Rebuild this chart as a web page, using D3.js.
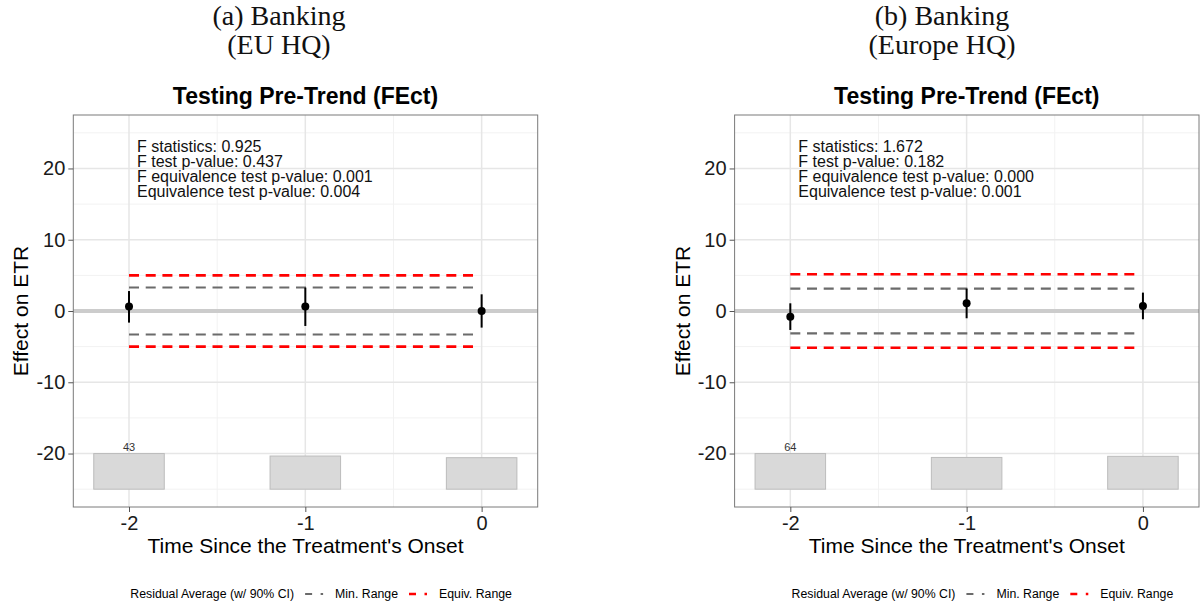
<!DOCTYPE html>
<html>
<head>
<meta charset="utf-8">
<script src="https://cdn.jsdelivr.net/npm/d3@7"></script>
<style>
  body { margin: 0; background: #fff; }
  text { font-family: "Liberation Sans", Arial, sans-serif; }
</style>
</head>
<body>
<div id="chart-area"></div>
<script>
// periods on the x axis
const periods = [-2, -1, 0]

// panel (a) - EU HQ
const estA = [0.62, 0.62, 0.0]
const lowA = [-1.63, -2.1, -2.33]
const highA = [2.8, 3.28, 2.34]
const countA = [43, 40, 38]
const minRangeA = 3.3
const equivRangeA = 5.0
const statsA = [
  "F statistics: 0.925",
  "F test p-value: 0.437",
  "F equivalence test p-value: 0.001",
  "Equivalence test p-value: 0.004"
]
const captionA = ["(a) Banking", "(EU HQ)"]

// panel (b) - Europe HQ
const estB = [-0.79, 1.08, 0.7]
const lowB = [-2.66, -1.02, -1.16]
const highB = [1.08, 3.14, 2.58]
const countB = [64, 57, 59]
const minRangeB = 3.15
const equivRangeB = 5.15
const statsB = [
  "F statistics: 1.672",
  "F test p-value: 0.182",
  "F equivalence test p-value: 0.000",
  "Equivalence test p-value: 0.001"
]
const captionB = ["(b) Banking", "(Europe HQ)"]

// range lines run from first period to just before 0
const rangeSpan = [-2, -0.04]

// tick labels / text
const xTicks = [-2, -1, 0]
const yTicks = [-20, -10, 0, 10, 20]
const xMinor = [-1.5, -0.5]
const yMinor = [-25, -15, -5, 5, 15, 25]
const plotTitle = "Testing Pre-Trend (FEct)"
const xTitle = "Time Since the Treatment's Onset"
const yTitle = "Effect on ETR"
const legendTitle = "Residual Average (w/ 90% CI)"
const legendKeys = ["Min. Range", "Equiv. Range"]

// layout
const W = 1202, H = 608
const PANEL = { WIDTH: 464.4, TOP: 115, BOTTOM: 507 }

const svg = d3.select("#chart-area").append("svg")
  .attr("width", W)
  .attr("height", H)

function drawPanel(left, captionCx, d) {
  const g = svg.append("g")

  const x = d3.scaleLinear()
    .domain([-2.316, 0.318])
    .range([left, left + PANEL.WIDTH])

  const y = d3.scaleLinear()
    .domain([-27.5, 27.5])
    .range([PANEL.BOTTOM, PANEL.TOP])

  const right = left + PANEL.WIDTH

  // caption above (latex style)
  g.selectAll(".caption")
    .data(d.caption)
    .enter().append("text")
    .attr("x", captionCx)
    .attr("y", (t, i) => 25 + i * 29)
    .attr("text-anchor", "middle")
    .style("font-family", "'Liberation Serif', 'Times New Roman', serif")
    .style("font-size", "28px")
    .attr("fill", "#111")
    .text(t => t)

  // plot title
  g.append("text")
    .attr("x", (left + right) / 2)
    .attr("y", 104)
    .attr("text-anchor", "middle")
    .style("font-size", "23px")
    .style("font-weight", "bold")
    .text(plotTitle)

  // grid lines
  g.selectAll(".ymin").data(yMinor).enter().append("line")
    .attr("x1", left).attr("x2", right)
    .attr("y1", v => y(v)).attr("y2", v => y(v))
    .attr("stroke", "#f2f2f2").attr("stroke-width", 1)
  g.selectAll(".xmin").data(xMinor).enter().append("line")
    .attr("x1", v => x(v)).attr("x2", v => x(v))
    .attr("y1", PANEL.TOP).attr("y2", PANEL.BOTTOM)
    .attr("stroke", "#f2f2f2").attr("stroke-width", 1)
  g.selectAll(".ymaj").data(yTicks).enter().append("line")
    .attr("x1", left).attr("x2", right)
    .attr("y1", v => y(v)).attr("y2", v => y(v))
    .attr("stroke", "#e6e6e6").attr("stroke-width", 1.5)
  g.selectAll(".xmaj").data(xTicks).enter().append("line")
    .attr("x1", v => x(v)).attr("x2", v => x(v))
    .attr("y1", PANEL.TOP).attr("y2", PANEL.BOTTOM)
    .attr("stroke", "#e6e6e6").attr("stroke-width", 1.5)

  // zero line
  g.append("line")
    .attr("x1", left).attr("x2", right)
    .attr("y1", y(0)).attr("y2", y(0))
    .attr("stroke", "#cccccc").attr("stroke-width", 4)

  // count bars at the bottom
  const cScale = d3.scaleLinear()
    .domain([0, d3.max(d.count)])
    .range([-25, -20])
  const barW = x(0.2) - x(0)
  g.selectAll(".bar")
    .data(periods)
    .enter().append("rect")
    .attr("x", (p, i) => x(p) - barW)
    .attr("width", barW * 2)
    .attr("y", (p, i) => y(cScale(d.count[i])))
    .attr("height", (p, i) => y(-25) - y(cScale(d.count[i])))
    .attr("fill", "#d9d9d9")
    .attr("stroke", "#bcbcbc")
    .attr("stroke-width", 1)

  // label only the first bar
  g.append("text")
    .attr("x", x(periods[0]))
    .attr("y", y(cScale(d.count[0])) - 3)
    .attr("text-anchor", "middle")
    .style("font-size", "11px")
    .attr("fill", "#333")
    .text(d.count[0])

  // range lines (min = grey, equiv = red)
  const ranges = [
    { v: d.minRange, color: "#6b6b6b", w: 2.2 },
    { v: -d.minRange, color: "#6b6b6b", w: 2.2 },
    { v: d.equivRange, color: "#ff0000", w: 2.6 },
    { v: -d.equivRange, color: "#ff0000", w: 2.6 }
  ]
  g.selectAll(".range").data(ranges).enter().append("line")
    .attr("x1", x(rangeSpan[0])).attr("x2", x(rangeSpan[1]))
    .attr("y1", r => y(r.v)).attr("y2", r => y(r.v))
    .attr("stroke", r => r.color)
    .attr("stroke-width", r => r.w)
    .attr("stroke-dasharray", "10,6.7")

  // error bars + points
  g.selectAll(".ci").data(periods).enter().append("line")
    .attr("x1", p => x(p)).attr("x2", p => x(p))
    .attr("y1", (p, i) => y(d.low[i]))
    .attr("y2", (p, i) => y(d.high[i]))
    .attr("stroke", "#000").attr("stroke-width", 2)
  g.selectAll(".pt").data(periods).enter().append("circle")
    .attr("cx", p => x(p))
    .attr("cy", (p, i) => y(d.est[i]))
    .attr("r", 4)
    .attr("fill", "#000")

  // stats text
  g.selectAll(".stat").data(d.stats).enter().append("text")
    .attr("x", x(-2) + 8)
    .attr("y", (t, i) => 151.5 + i * 15.3)
    .style("font-size", "16px")
    .attr("fill", "#111")
    .text(t => t)

  // panel border
  g.append("rect")
    .attr("x", left).attr("y", PANEL.TOP)
    .attr("width", PANEL.WIDTH).attr("height", PANEL.BOTTOM - PANEL.TOP)
    .attr("fill", "none")
    .attr("stroke", "#7a7a7a").attr("stroke-width", 1)

  // axes (plain hyphen minus, no decimals)
  const fmt = v => String(v)
  const xAxisCall = d3.axisBottom(x).tickValues(xTicks).tickFormat(fmt).tickSize(5).tickPadding(4)
  const xAxisGroup = g.append("g")
    .attr("transform", `translate(0, ${PANEL.BOTTOM})`)
    .call(xAxisCall)
  xAxisGroup.select(".domain").remove()
  xAxisGroup.selectAll("line").attr("stroke", "#555")
  xAxisGroup.selectAll("text")
    .style("font-size", "20px")
    .style("font-family", "'Liberation Sans', Arial, sans-serif")
    .attr("fill", "#1a1a1a")

  const yAxisCall = d3.axisLeft(y).tickValues(yTicks).tickFormat(fmt).tickSize(5).tickPadding(3)
  const yAxisGroup = g.append("g")
    .attr("transform", `translate(${left}, 0)`)
    .call(yAxisCall)
  yAxisGroup.select(".domain").remove()
  yAxisGroup.selectAll("line").attr("stroke", "#555")
  yAxisGroup.selectAll("text")
    .style("font-size", "20px")
    .style("font-family", "'Liberation Sans', Arial, sans-serif")
    .attr("fill", "#1a1a1a")

  // axis titles
  g.append("text")
    .attr("x", (left + right) / 2)
    .attr("y", 553)
    .attr("text-anchor", "middle")
    .style("font-size", "21px")
    .text(xTitle)

  g.append("text")
    .attr("transform", `translate(${left - 45}, ${(PANEL.TOP + PANEL.BOTTOM) / 2}) rotate(-90)`)
    .attr("text-anchor", "middle")
    .style("font-size", "21px")
    .text(yTitle)

  // legend
  const lg = g.append("g").attr("transform", `translate(${left + 57}, 598)`)
  let cx = 0
  const t0 = lg.append("text").attr("x", cx).style("font-size", "12.3px").text(legendTitle)
  cx += t0.node().getComputedTextLength() + 11
  const keyColors = ["#6b6b6b", "#ff0000"]
  legendKeys.forEach((lab, i) => {
    lg.append("line")
      .attr("x1", cx).attr("x2", cx + 18)
      .attr("y1", -4).attr("y2", -4)
      .attr("stroke", keyColors[i])
      .attr("stroke-width", i === 0 ? 2.2 : 2.6)
      .attr("stroke-dasharray", "7,8.5")
    cx += 18 + 12
    const t = lg.append("text").attr("x", cx).style("font-size", "12.3px").text(lab)
    cx += t.node().getComputedTextLength() + 11
  })
}

drawPanel(73.3, 279, {
  est: estA, low: lowA, high: highA, count: countA,
  minRange: minRangeA, equivRange: equivRangeA, stats: statsA, caption: captionA
})

drawPanel(734.6, 942, {
  est: estB, low: lowB, high: highB, count: countB,
  minRange: minRangeB, equivRange: equivRangeB, stats: statsB, caption: captionB
})
</script>
</body>
</html>
